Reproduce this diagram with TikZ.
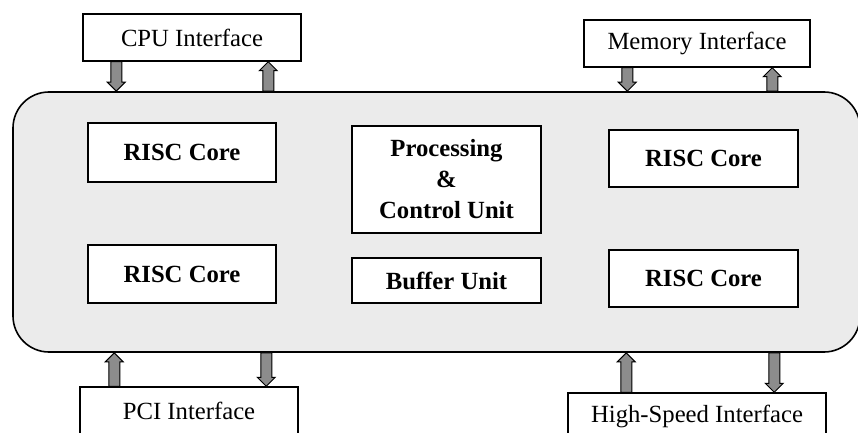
\documentclass[tikz,border=0pt]{standalone}
\usepackage{fontspec}
\setmainfont{Liberation Serif}
\usetikzlibrary{calc}
\tikzset{
  box/.style={draw, line width=1.5pt, fill=white, inner sep=0pt, align=center,
    font=\fontsize{24.7}{30}\selectfont},
  bbox/.style={box, font=\fontsize{24.7}{31}\selectfont\bfseries},
  corebox/.style={draw, line width=1.6pt, fill=black!8, rounded corners=36pt},
  blockarrow/.style={fill=black!45, draw=black, line width=1pt, line join=miter}
}
\newcommand\blkarrow[2]{%
  \path (#2) coordinate (tipE) ($(#2)!9pt!(#1)$) coordinate (headH) (#1) coordinate (tailS);
  \filldraw[blockarrow] ($(tailS)!5.5pt!90:(tipE)$) -- ($(headH)!5.5pt!-90:(tailS)$)
    -- ($(headH)!9pt!-90:(tailS)$) -- (tipE) -- ($(headH)!9pt!90:(tailS)$)
    -- ($(headH)!5.5pt!90:(tailS)$) -- ($(tailS)!5.5pt!-90:(tipE)$) -- cycle;}
\begin{document}
\begin{tikzpicture}[x=1pt,y=-1pt]
\useasboundingbox (0,0) rectangle (858,433);
\clip (0,0) rectangle (858,433);
\fill[white] (0,0) rectangle (858,433);
% main block
\node[corebox, minimum width=847pt, minimum height=260pt] (core) at (436.5,222) {};
% interfaces
\node[box, minimum width=218pt, minimum height=47pt] (cpu) at (192,37.5) {CPU Interface};
\node[box, minimum width=226pt, minimum height=47pt] (mem) at (697,43.5) {Memory Interface};
\node[box, minimum width=218pt, minimum height=47pt] (pci) at (189,410.5) {PCI Interface};
\node[box, minimum width=258pt, minimum height=47pt] (hsi) at (697,416.5) {High-Speed Interface};
% inner units
\node[bbox, minimum width=188pt, minimum height=59pt] (rc1) at (182,152.5) {RISC Core};
\node[bbox, minimum width=188pt, minimum height=58pt] (rc2) at (182,274) {RISC Core};
\node[bbox, minimum width=189pt, minimum height=57pt] (rc3) at (703.5,158.5) {RISC Core};
\node[bbox, minimum width=189pt, minimum height=57pt] (rc4) at (703.5,278.5) {RISC Core};
\node[bbox, minimum width=189pt, minimum height=107pt] (pcu) at (446.5,179.5) {Processing\\\&\\Control Unit};
\node[bbox, minimum width=189pt, minimum height=45pt] (buf) at (446.5,280.5) {Buffer Unit};
% arrow anchor points
\coordinate (a1) at ($(cpu.south west)+(34,0)$);
\coordinate (a2) at ($(cpu.south west)+(186,0)$);
\coordinate (a3) at ($(mem.south west)+(44,0)$);
\coordinate (a4) at ($(mem.south west)+(189,0)$);
\coordinate (a5) at ($(pci.north west)+(35,0)$);
\coordinate (a6) at ($(pci.north west)+(187,0)$);
\coordinate (a7) at ($(hsi.north west)+(59,0)$);
\coordinate (a8) at ($(hsi.north west)+(207,0)$);
\blkarrow{a1}{a1 |- core.north}
\blkarrow{a2 |- core.north}{a2}
\blkarrow{a3}{a3 |- core.north}
\blkarrow{a4 |- core.north}{a4}
\blkarrow{a5}{a5 |- core.south}
\blkarrow{a6 |- core.south}{a6}
\blkarrow{a7}{a7 |- core.south}
\blkarrow{a8 |- core.south}{a8}
\end{tikzpicture}
\end{document}
